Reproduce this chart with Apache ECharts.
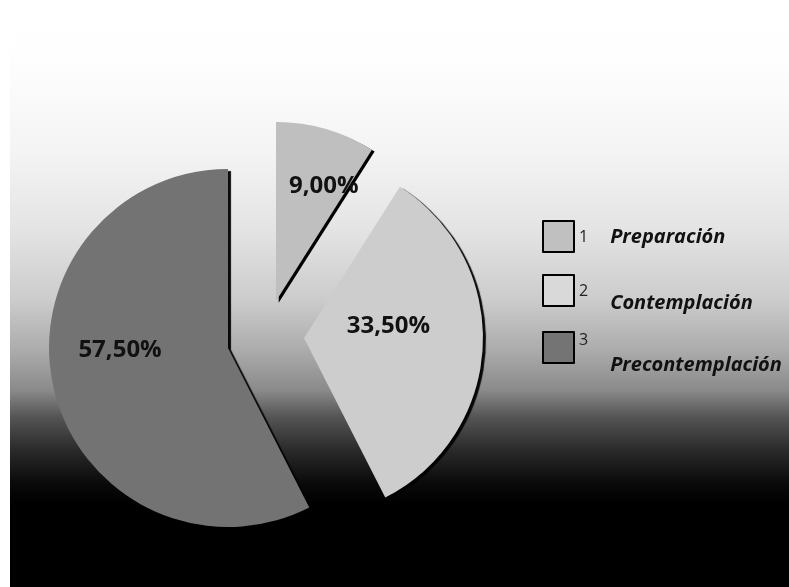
<!DOCTYPE html>
<html>
<head>
<meta charset="utf-8">
<script src="https://cdn.jsdelivr.net/npm/echarts@6/dist/echarts.min.js"></script>
<style>
html,body{margin:0;padding:0;background:#fff;}
#c{width:789px;height:587px;}
</style>
</head>
<body>
<div id="c"></div>
<script>
// ---- data ----
const categories = ['Preparación', 'Contemplación', 'Precontemplación'];
const numbers = ['1', '2', '3'];
const values = [9.0, 33.5, 57.5];
const sliceColors = ['#bfbfbf', '#cdcdcd', '#737373'];
const legendColors = ['#c0c0c0', '#d9d9d9', '#747474'];

// ---- layout (positions only) ----
const R = 179;
const centers = [[276, 301], [304, 338], [228, 348]];
const labelShift = [[22, -26], [-8, -16], [-18, -19]];
const legendTops = [220, 267.5, 319.5];
const nPad = [[2, 0, 0, 0], [2, 0, 0, 0], [0, 0, 14, 0]];
const pPad = [[2, 0, 0, 22], [26, 0, 0, 22], [36, 0, 0, 22]];

const fmt = v => v.toFixed(2).replace('.', ',') + '%';
const hidden = {
  itemStyle: { color: 'rgba(0,0,0,0)', shadowColor: 'rgba(0,0,0,0)', borderWidth: 0 },
  label: { show: false }, labelLine: { show: false }
};
function makeData(visibleIdx, color, withLabel, shadow) {
  return categories.map((name, i) => {
    if (i !== visibleIdx) return Object.assign({ name, value: values[i] }, hidden);
    const it = { name, value: values[i], itemStyle: { color: color, borderWidth: 0 } };
    if (shadow) {
      Object.assign(it.itemStyle, { shadowColor: 'rgba(0,0,0,0.95)', shadowBlur: 1, shadowOffsetX: 3, shadowOffsetY: 2 });
    }
    it.label = { show: withLabel };
    return it;
  });
}
function baseSeries(center, data, shift) {
  return {
    type: 'pie', center: center, radius: R, startAngle: 90, clockwise: true,
    avoidLabelOverlap: false, silent: true, emphasis: { disabled: true },
    label: {
      position: 'inside', formatter: p => fmt(p.value),
      fontFamily: 'Open Sans', fontWeight: 'bold', fontSize: 24, color: '#111'
    },
    labelLine: { show: false },
    labelLayout: shift ? { dx: shift[0], dy: shift[1] } : undefined,
    data: data
  };
}

// black edge line of slice 1 (underlay shifted outward, perpendicular to its end edge)
const endAng = values[0] / values.reduce((a, b) => a + b, 0) * 2 * Math.PI;
const lineW = 3.2;
const underCenter = [centers[0][0] + lineW * Math.cos(endAng), centers[0][1] + lineW * Math.sin(endAng)];

const series = [
  baseSeries(underCenter, makeData(0, '#000', false, false), null),
  baseSeries(centers[0], makeData(0, sliceColors[0], true, false), labelShift[0]),
  baseSeries(centers[1], makeData(1, sliceColors[1], true, true), labelShift[1]),
  baseSeries(centers[2], makeData(2, sliceColors[2], true, true), labelShift[2])
];

const legends = categories.map((name, i) => {
  const rich = {};
  rich['n' + i] = { fontFamily: 'Open Sans', fontSize: 16, color: '#222', lineHeight: 24, padding: nPad[i] };
  rich['p' + i] = { fontFamily: 'Open Sans', fontSize: 20, fontWeight: 'bold', fontStyle: 'italic', color: '#111', lineHeight: 24, padding: pPad[i] };
  return {
    orient: 'vertical', left: 542, top: legendTops[i], padding: 0,
    itemWidth: 31, itemHeight: 31, selectedMode: false, icon: 'rect',
    itemStyle: { borderColor: '#000', borderWidth: 2, shadowBlur: 0, shadowColor: 'rgba(0,0,0,0)', shadowOffsetX: 0, shadowOffsetY: 0 },
    data: [{ name: name, itemStyle: { color: legendColors[i] } }],
    formatter: () => '{n' + i + '|' + numbers[i] + '}{p' + i + '|' + name + '}',
    textStyle: { rich: rich }
  };
});

const chart = echarts.init(document.getElementById('c'));
chart.setOption({
  animation: false,
  backgroundColor: '#ffffff',
  graphic: [{
    type: 'rect', z: -100, silent: true,
    shape: { x: 10, y: 0, width: 779, height: 587 },
    style: {
      fill: new echarts.graphic.LinearGradient(0, 0, 0, 1, [
        { offset: 0, color: '#ffffff' },
        { offset: 0.10, color: '#fefefe' },
        { offset: 0.256, color: '#f4f4f4' },
        { offset: 0.39, color: '#e4e4e4' },
        { offset: 0.51, color: '#cccccc' },
        { offset: 0.596, color: '#acacac' },
        { offset: 0.665, color: '#8a8a8a' },
        { offset: 0.71, color: '#555555' },
        { offset: 0.767, color: '#2a2a2a' },
        { offset: 0.823, color: '#0a0a0a' },
        { offset: 0.857, color: '#000000' },
        { offset: 1, color: '#000000' }
      ])
    }
  }],
  legend: legends,
  series: series
});
</script>
</body>
</html>
